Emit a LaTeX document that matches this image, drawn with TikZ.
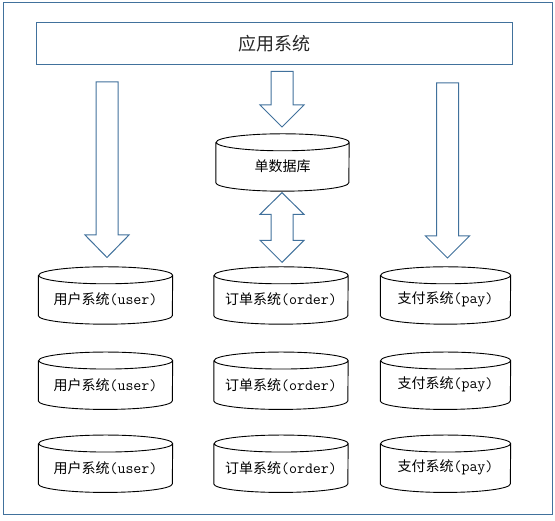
\documentclass[tikz,border=0pt]{standalone}
\usepackage{fontspec}
\newfontfamily\cjk{Noto Sans CJK SC}
\definecolor{frameblue}{HTML}{41719C}
\tikzset{
  x=1pt,y=1pt,
  blueline/.style={draw=frameblue,line width=1pt},
  blockarrow/.style={draw=frameblue,line width=1pt,fill=white,line join=miter},
  cylbox/.style={rectangle,inner sep=0pt,minimum height=57pt},
  cylline/.style={draw=black,line width=0.9pt},
  cyltext/.style={inner sep=0pt,font=\cjk\fontsize{14}{16}\selectfont},
}
\newcommand\drawcyl[2]{%
  \draw[cylline] ([yshift=-8.5pt]#1.north west) -- ([yshift=8.5pt]#1.south west)
    arc[start angle=180,end angle=360,x radius=#2,y radius=8.5pt]
    -- ([yshift=-8.5pt]#1.north east)
    arc[start angle=0,end angle=180,x radius=#2,y radius=8.5pt]
    arc[start angle=180,end angle=360,x radius=#2,y radius=8.5pt];}
\newcommand\mono[1]{{\ttfamily\fontsize{15.5}{16}\selectfont #1}}
\begin{document}
\begin{tikzpicture}
\useasboundingbox (0,0) rectangle (555,521);
% outer frame
\draw[blueline] (3,518) rectangle (552,6);
% top box
\node[blueline,rectangle,minimum width=476pt,minimum height=42pt,inner sep=0pt,
      font=\cjk\fontsize{18}{20}\selectfont,text=black!85] (app) at (274,477) {应用系统};
% cylinders
\node[cylbox,minimum width=133pt] (db) at (282.5,358.5) {};
\drawcyl{db}{66.5pt}
\node[cyltext] (dbt) at ([yshift=-3.5pt]db.center) {单数据库};

\foreach \r/\yy in {1/225.5,2/140.25,3/57.25}{
  \node[cylbox,minimum width=134pt] (u\r) at (105.5,\yy) {};
  \drawcyl{u\r}{67pt}
  \node[cyltext] (ut\r) at ([yshift=-4pt]u\r.center) {用户系统\mono{(user)}};
  \node[cylbox,minimum width=134pt] (o\r) at (281,\yy) {};
  \drawcyl{o\r}{67pt}
  \node[cyltext] (ot\r) at ([yshift=-4pt]o\r.center) {订单系统\mono{(order)}};
  \node[cylbox,minimum width=130pt] (p\r) at (445.5,\yy) {};
  \drawcyl{p\r}{65pt}
  \node[cyltext] (pt\r) at ([yshift=-4pt]p\r.center) {支付系统\mono{(pay)}};
}
% block arrows
\draw[blockarrow] (96,439) -- (118,439) -- (118,286) -- (129,286) -- (107,263.5)
  -- (85,286) -- (96,286) -- cycle;
\draw[blockarrow] (436.5,438) -- (458.5,438) -- (458.5,285) -- (469.5,285) -- (447.5,263)
  -- (425.5,285) -- (436.5,285) -- cycle;
\draw[blockarrow] (271,449.7) -- (293,449.7) -- (293,416) -- (304,416) -- (282,394)
  -- (260,416) -- (271,416) -- cycle;
\draw[blockarrow] (282,328.3) -- (304,306.7) -- (293,306.7) -- (293,280.7) -- (304,280.7)
  -- (282,258.7) -- (260,280.7) -- (271,280.7) -- (271,306.7) -- (260,306.7) -- cycle;
\end{tikzpicture}
\end{document}
